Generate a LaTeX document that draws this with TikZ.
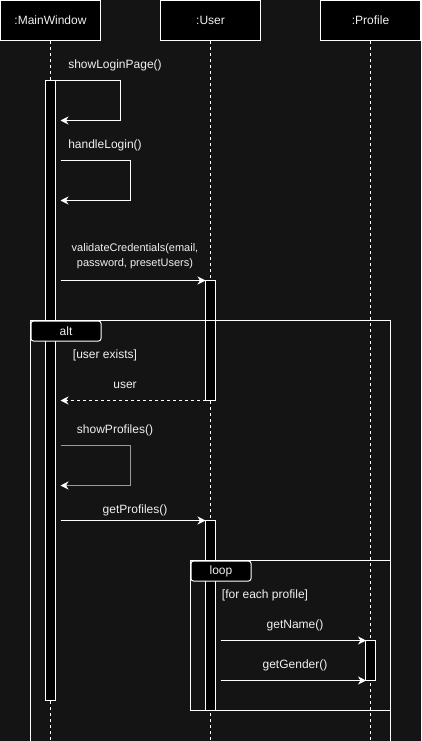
\documentclass[tikz,border=0pt]{standalone}
\usepackage{fontspec}
\setmainfont{Liberation Sans}
\usetikzlibrary{arrows.meta}
\definecolor{bg}{HTML}{141414}
\definecolor{ink}{HTML}{F0F0F0}
\definecolor{dim}{HTML}{9A9A9A}
\tikzset{
  head/.style={draw=white, fill=black, line width=1pt, minimum width=100pt, minimum height=40pt, inner sep=0pt, text=ink, font=\fontsize{12}{14}\selectfont},
  life/.style={draw=white, line width=1pt, dash pattern=on 3pt off 3pt},
  act/.style={draw=white, fill=black, line width=1pt},
  frame/.style={draw=white, line width=1pt},
  tab/.style={draw=white, fill=black, line width=1pt, rounded corners=2.5pt},
  msg/.style={draw=white, line width=1pt, -{Stealth[length=8pt,width=8pt,inset=2.5pt]}},
  ret/.style={msg, dash pattern=on 3pt off 3pt},
  greymsg/.style={draw=dim, line width=1pt, -{Stealth[length=8pt,width=8pt,inset=2.5pt,color=white]}},
  lbl/.style={text=ink, inner sep=0pt, font=\fontsize{12}{14}\selectfont},
  lblsm/.style={text=ink, inner sep=0pt, font=\fontsize{11}{15}\selectfont, align=center}
}
\begin{document}
\begin{tikzpicture}[x=1pt, y=-1pt]
  \fill[bg] (0,0) rectangle (421,741);
  \useasboundingbox (0,0) rectangle (421,741);
  \clip (0,0) rectangle (421,741);

  % lifeline heads
  \node[head] (mw) at (50.5,20.5) {:MainWindow};
  \node[head] (us) at (210.5,20.5) {:User};
  \node[head] (pr) at (370.5,20.5) {:Profile};

  % lifelines
  \coordinate (mwEnd) at (50.5,745);
  \coordinate (usEnd) at (210.5,745);
  \coordinate (prEnd) at (370.5,745);
  \draw[life] (mw.south) -- (mwEnd);
  \draw[life] (us.south) -- (usEnd);
  \draw[life] (pr.south) -- (prEnd);

  % activation bars
  \draw[act] (45.5,80.5) rectangle (55.5,700.5);
  \draw[act] (205.5,280.5) rectangle (215.5,400.5);
  \draw[act] (205.5,520.5) rectangle (215.5,710.5);
  \draw[act] (365.5,640.5) rectangle (375.5,680.5);

  % combined fragments
  \draw[frame] (30.5,320.5) rectangle (390.5,760);
  \node[tab, minimum width=70pt, minimum height=20pt, inner sep=0pt, anchor=north west] (alttab) at (30.5,320.5) {};
  \node[lbl] at (alttab.center) {alt};
  \draw[frame] (190.5,560.5) rectangle (390.5,710.5);
  \node[tab, minimum width=60pt, minimum height=20pt, inner sep=0pt, anchor=north west] (looptab) at (190.5,560.5) {};
  \node[lbl] at (looptab.center) {loop};

  % showLoginPage() self call
  \coordinate (s1a) at (55.5,80.5);
  \coordinate (s1b) at (120.5,80.5);
  \coordinate (s1c) at (120.5,120.5);
  \coordinate (s1d) at (60.5,120.5);
  \draw[msg] (s1a) -- (s1b) -- (s1c) -- (s1d);
  \node[lbl] (l1) at (115,65.5) {showLoginPage()};

  % handleLogin() self call
  \coordinate (s2a) at (60.5,160.5);
  \coordinate (s2b) at (130.5,160.5);
  \coordinate (s2c) at (130.5,200.5);
  \coordinate (s2d) at (60.5,200.5);
  \draw[msg] (s2a) -- (s2b) -- (s2c) -- (s2d);
  \node[lbl] (l2) at (105,145.5) {handleLogin()};

  % validateCredentials call
  \coordinate (v0) at (60.5,280.5);
  \coordinate (v1) at (205.5,280.5);
  \draw[msg] (v0) -- (v1);
  \node[lblsm] (l3) at (135,256) {validateCredentials(email,\\password, presetUsers)};

  \node[lbl] (g1) at (105,355.5) {[user exists]};

  % return of user
  \coordinate (r0) at (205.5,400.5);
  \coordinate (r1) at (60.5,400.5);
  \draw[ret] (r0) -- (r1);
  \node[lbl] (l4) at (125,385.5) {user};

  % showProfiles() self call
  \coordinate (s3a) at (60.5,445.5);
  \coordinate (s3b) at (130.5,445.5);
  \coordinate (s3c) at (130.5,485.5);
  \coordinate (s3d) at (60.5,485.5);
  \draw[greymsg] (s3a) -- (s3b) -- (s3c) -- (s3d);
  \node[lbl] (l5) at (115,430.5) {showProfiles()};

  % getProfiles() call
  \coordinate (p0) at (60.5,520.5);
  \coordinate (p1) at (205.5,520.5);
  \draw[msg] (p0) -- (p1);
  \node[lbl] (l6) at (135,510.5) {getProfiles()};

  \node[lbl] (g2) at (265,595.5) {[for each profile]};

  % getName() and getGender() calls
  \coordinate (n0) at (220.5,640.5);
  \coordinate (n1) at (366,640.5);
  \draw[msg] (n0) -- (n1);
  \node[lbl] (l7) at (295,625.5) {getName()};
  \coordinate (q0) at (220.5,680.5);
  \coordinate (q1) at (366,680.5);
  \draw[msg] (q0) -- (q1);
  \node[lbl] (l8) at (295,665.5) {getGender()};
\end{tikzpicture}
\end{document}
